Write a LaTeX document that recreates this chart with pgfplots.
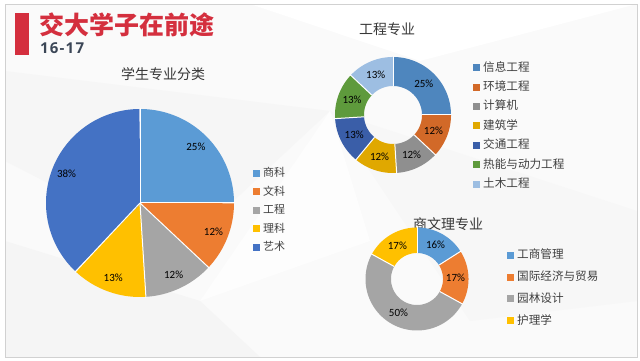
\documentclass[border=0pt]{standalone}
\usepackage{pgfplots}
\pgfplotsset{compat=1.18}
\usepackage{fontspec}
\setmainfont{Carlito}
\newfontfamily\cjk{Noto Sans CJK SC}
\newfontfamily\numf[LetterSpace=8]{Open Sans}
\definecolor{pA}{HTML}{5B9BD5}
\definecolor{pB}{HTML}{ED7D31}
\definecolor{pC}{HTML}{A5A5A5}
\definecolor{pD}{HTML}{FFC000}
\definecolor{pE}{HTML}{4472C4}
\definecolor{dA}{RGB}{78,134,190}
\definecolor{dB}{RGB}{210,105,40}
\definecolor{dC}{RGB}{143,143,143}
\definecolor{dD}{RGB}{224,168,0}
\definecolor{dE}{RGB}{58,94,168}
\definecolor{dF}{RGB}{94,154,60}
\definecolor{dG}{RGB}{157,190,226}
\definecolor{hdr}{HTML}{D42F3E}
\definecolor{sub}{HTML}{3B4656}
\definecolor{txt}{HTML}{404040}
\newcommand\pctfont{\fontsize{11}{11}\selectfont}
\def\slCum{0}
\def\slSeps{}
% #1 value (percent), #2 colour, #3 outer radius, #4 inner radius, #5 label radius, #6 legend text
\newcommand\slice[6]{%
  \pgfmathsetmacro\slA{90-3.6*\slCum}%
  \pgfmathsetmacro\slB{90-3.6*(\slCum+#1)}%
  \pgfmathsetmacro\slM{(\slA+\slB)/2}%
  \pgfmathsetmacro\slR{(#3+#4)/2}%
  \pgfmathsetmacro\slW{#3-#4}%
  \pgfmathsetmacro\slLX{#5*cos(\slM)}%
  \pgfmathsetmacro\slLY{#5*sin(\slM)}%
  \pgfmathsetmacro\slAX{#4*cos(\slA)}%
  \pgfmathsetmacro\slAY{#4*sin(\slA)}%
  \pgfmathsetmacro\slBX{(#3+1)*cos(\slA)}%
  \pgfmathsetmacro\slBY{(#3+1)*sin(\slA)}%
  \edef\slDo{%
    \noexpand\addplot[color=#2, line width=\slW pt, line cap=butt, domain=\slB:\slA, samples=90] ({\slR*cos(x)},{\slR*sin(x)});%
  }\slDo
  \addlegendentry{#6}%
  \xdef\slSeps{\unexpanded\expandafter{\slSeps}%
    \noexpand\addplot[white, line width=1pt, forget plot] coordinates {(\slAX,\slAY) (\slBX,\slBY)};%
    \noexpand\node[font=\noexpand\pctfont, text=black] at (axis cs:\slLX,\slLY) {#1\noexpand\%};}%
  \pgfmathsetmacro\slNew{\slCum+#1}\xdef\slCum{\slNew}%
}
\pgfplotsset{
  piestyle/.style={
    x=1pt, y=1pt, hide axis, clip=false, no markers,
    legend cell align=left,
    legend image code/.code={\path[##1, draw=none, line width=0pt, fill] (0pt,-3.5pt) rectangle (7pt,3.5pt);},
    legend style={draw=none, fill=none, inner sep=0pt, text=txt,
      font=\cjk\fontsize{11}{11}\selectfont,
      nodes={inner sep=0pt, text height=8.5pt, text depth=1.5pt},
      /tikz/every odd column/.append style={column sep=3pt}},
  }
}
\begin{document}
\begin{tikzpicture}[x=1pt,y=1pt]
\fill[white] (0pt,0pt) rectangle (640pt,361pt);
\fill[black!2] (5pt,4pt) rectangle (637pt,357pt);
% faint background facets
\fill[black!3.5] (5pt,200pt) -- (180pt,110pt) -- (330pt,250pt) -- (5pt,290pt) -- cycle;
\fill[black!3] (330pt,250pt) -- (637pt,150pt) -- (637pt,60pt) -- (470pt,40pt) -- cycle;
\fill[black!4] (5pt,4pt) -- (5pt,120pt) -- (200pt,60pt) -- (260pt,4pt) -- cycle;
\fill[white] (250pt,357pt) -- (420pt,300pt) -- (637pt,357pt) -- cycle;
\fill[white!60!black!2] (200pt,60pt) -- (330pt,250pt) -- (370pt,120pt) -- cycle;
\draw[black!18, line width=0.8pt] (5pt,4pt) rectangle (637pt,357pt);
% header
\fill[hdr] (15pt,306pt) rectangle (29pt,348pt);
\node[anchor=west, inner sep=0pt, text=hdr, font=\cjk\bfseries\fontsize{25}{25}\selectfont] at (39pt,336pt) {交大学子在前途};
\node[anchor=west, inner sep=0pt, text=sub, font=\numf\bfseries\fontsize{15}{15}\selectfont] at (40pt,312.5pt) {16-17};
% titles
\node[text=black!78, font=\cjk\fontsize{14}{14}\selectfont] at (163pt,287pt) {学生专业分类};
\node[text=black!78, font=\cjk\fontsize{14}{14}\selectfont] at (387pt,332pt) {工程专业};
\node[text=black!78, font=\cjk\fontsize{14}{14}\selectfont] at (448pt,137pt) {商文理专业};
% pie chart
\begin{axis}[piestyle, xmin=-100, xmax=100, ymin=-100, ymax=100,
  at={(40pt,58pt)}, anchor=south west,
  legend style={at={(axis cs:113,35)}, anchor=north west, row sep=8.5pt}]
\gdef\slCum{0}\gdef\slSeps{}
\slice{25}{pA}{94}{0}{79}{商科}
\slice{12}{pB}{94}{0}{79}{文科}
\slice{12}{pC}{94}{0}{79}{工程}
\slice{13}{pD}{94}{0}{79}{理科}
\slice{38}{pE}{94}{0}{79}{艺术}
\slSeps
\end{axis}
% donut 1
\begin{axis}[piestyle, xmin=-60, xmax=60, ymin=-60, ymax=60,
  at={(333pt,186pt)}, anchor=south west,
  legend style={at={(axis cs:80,52.5)}, anchor=north west, row sep=9.4pt,
    font=\cjk\fontsize{11.6}{11.6}\selectfont}]
\gdef\slCum{0}\gdef\slSeps{}
\slice{25}{dA}{58}{29}{43.5}{信息工程}
\slice{12}{dB}{58}{29}{43.5}{环境工程}
\slice{12}{dC}{58}{29}{43.5}{计算机}
\slice{12}{dD}{58}{29}{43.5}{建筑学}
\slice{13}{dE}{58}{29}{43.5}{交通工程}
\slice{13}{dF}{58}{29}{43.5}{热能与动力工程}
\slice{13}{dG}{58}{29}{43.5}{土木工程}
\slSeps
\end{axis}
% donut 2
\begin{axis}[piestyle, xmin=-55, xmax=55, ymin=-55, ymax=55,
  at={(362pt,27pt)}, anchor=south west,
  legend style={at={(axis cs:90,29)}, anchor=north west, row sep=11.9pt,
    font=\cjk\fontsize{11.6}{11.6}\selectfont}]
\gdef\slCum{0}\gdef\slSeps{}
\slice{16}{pA}{51.5}{26}{38.5}{工商管理}
\slice{17}{pB}{51.5}{26}{38.5}{国际经济与贸易}
\slice{50}{pC}{51.5}{26}{38.5}{园林设计}
\slice{17}{pD}{51.5}{26}{38.5}{护理学}
\slSeps
\end{axis}
\end{tikzpicture}
\end{document}
